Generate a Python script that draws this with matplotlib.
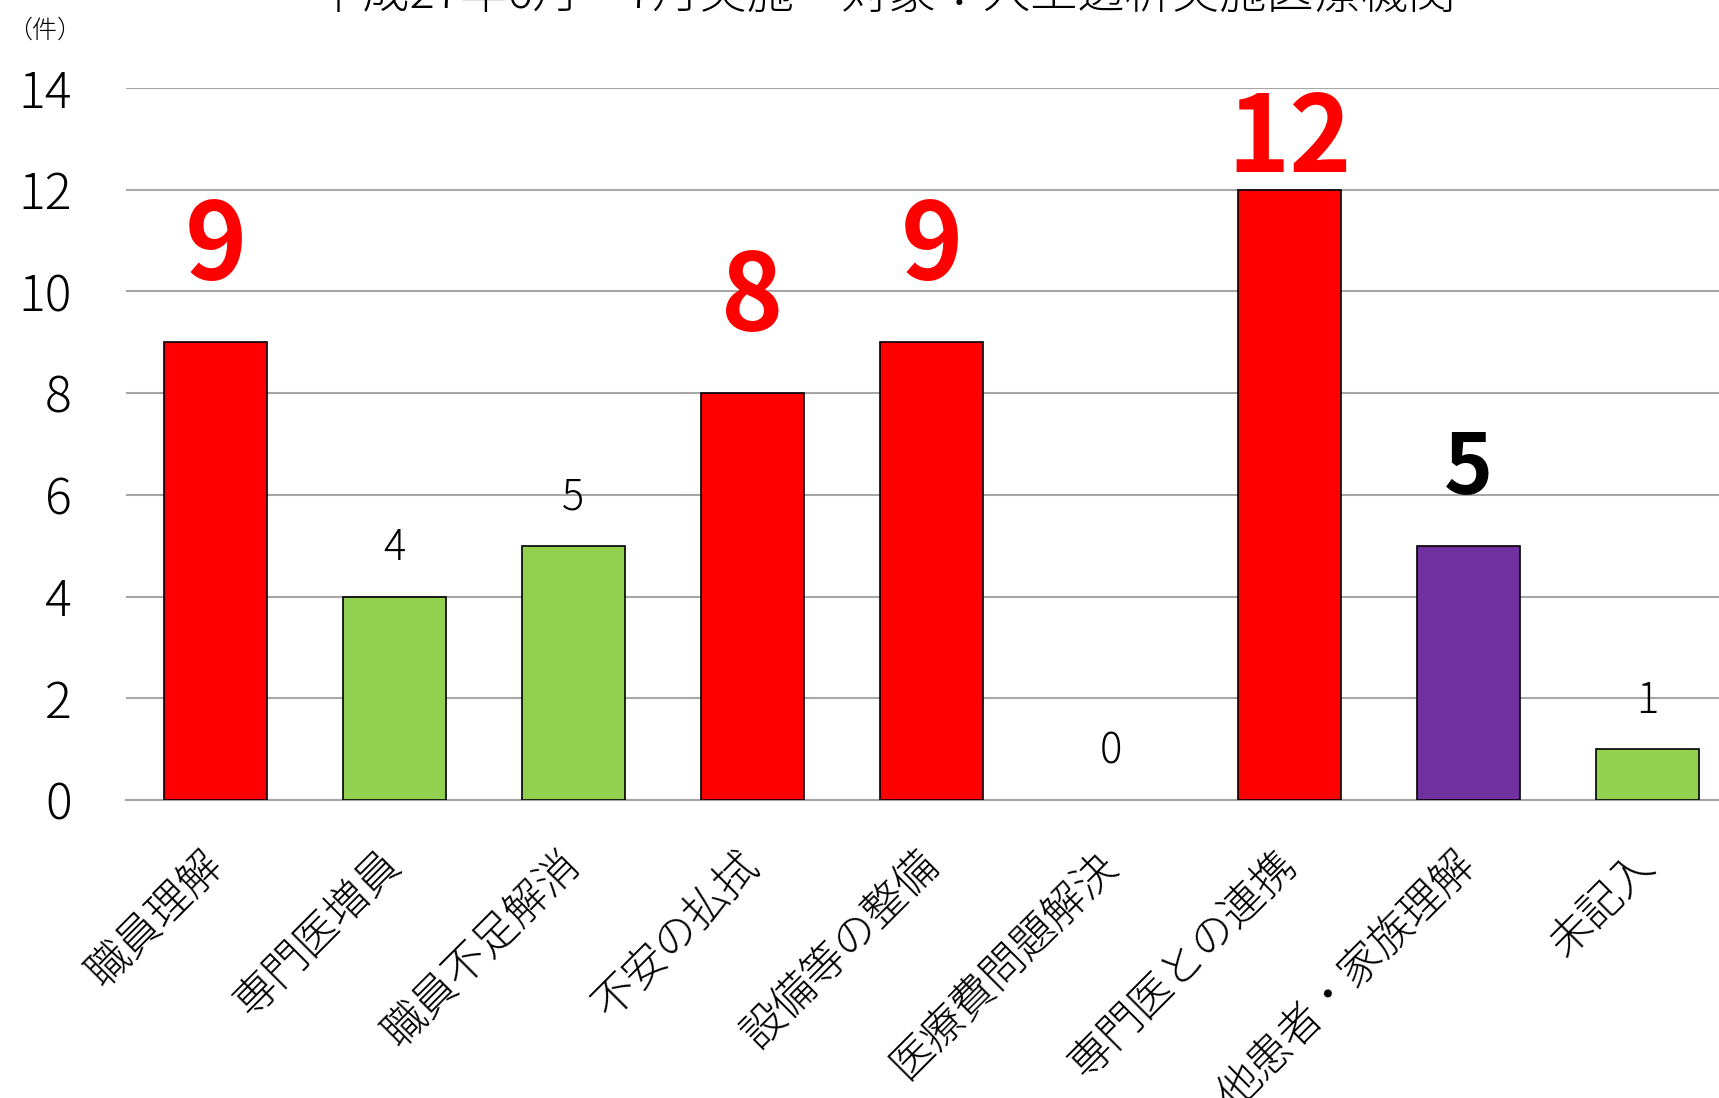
import numpy as np
import matplotlib.pyplot as plt

plt.rcParams['font.family'] = ['Noto Sans CJK JP', 'DejaVu Sans']

# data
categories = ['職員理解', '専門医増員', '職員不足解消', '不安の払拭', '設備等の整備',
              '医療費問題解決', '専門医との連携', '他患者・家族理解', '未記入']
counts = [9, 4, 5, 8, 9, 0, 12, 5, 1]
bar_colors = ['#FF0000', '#92D050', '#92D050', '#FF0000', '#FF0000',
              '#FF0000', '#FF0000', '#7030A0', '#92D050']
# label style per bar: (color, size, weight, offset in pt)
label_styles = [('#FF0000', 76, 'bold', 45), ('black', 30, 'light', 26),
                ('black', 30, 'light', 26), ('#FF0000', 76, 'bold', 45),
                ('#FF0000', 76, 'bold', 45), ('black', 30, 'light', 26),
                ('#FF0000', 76, 'bold', 13), ('black', 60, 'bold', 37),
                ('black', 30, 'light', 26)]
title = '平成27年6月～7月実施　対象：人工透析実施医療機関'

fig = plt.figure(figsize=(17.19, 10.98), dpi=100)
ax = fig.add_axes([0.0733, 0.2714, 0.9267, 0.6485])

x = np.arange(len(categories))
# excel draws nothing for an empty bar
edge_w = [1.2 if v > 0 else 0 for v in counts]
ax.bar(x, counts, width=0.575, color=bar_colors, edgecolor='black', linewidth=edge_w, zorder=3)

for xi, v, (c, s, w, off) in zip(x, counts, label_styles):
    ax.annotate(str(v), (xi, v), xytext=(0, off), textcoords='offset points',
                ha='center', va='baseline', color=c, fontsize=s, fontweight=w)

ax.set_xlim(-0.5, 8.4)
ax.set_ylim(0, 14)
ax.set_yticks(np.arange(0, 15, 2))
ax.grid(axis='y', color='#A6A6A6', linewidth=1.5, zorder=0)
for sp in ['top', 'right', 'left']:
    ax.spines[sp].set_visible(False)
ax.spines['bottom'].set_color('#A6A6A6')
ax.spines['bottom'].set_linewidth(1.5)
ax.tick_params(axis='y', length=0, pad=39, labelsize=36)
ax.tick_params(axis='x', length=0, pad=42)
ax.set_xticks(x)
ax.set_xticklabels(categories, rotation=45, ha='right', va='center',
                   rotation_mode='anchor', fontsize=31, fontweight='light')
for t in ax.get_yticklabels():
    t.set_fontweight('light')

fig.text(0.026, 0.972, '（件）', fontsize=18, ha='center', va='center', fontweight='light')
fig.text(0.515, 0.9927, title, fontsize=34, ha='center', va='baseline', fontweight='light')

plt.savefig('out.png', dpi=100)
